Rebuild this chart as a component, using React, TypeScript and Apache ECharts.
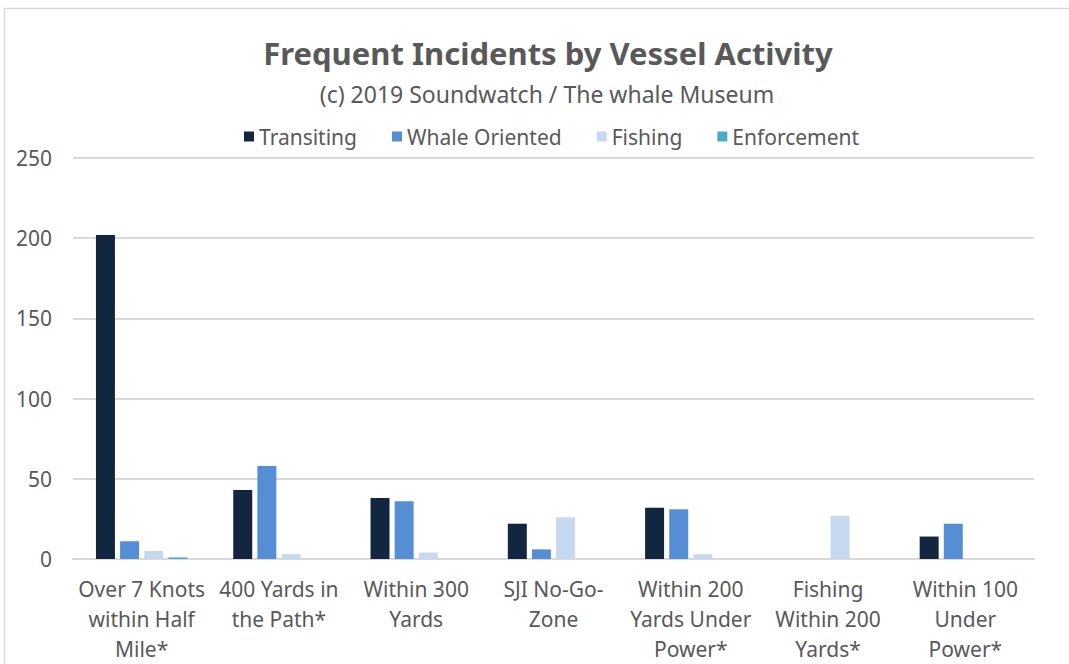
import React, { useEffect, useRef } from "react";
import * as echarts from "echarts";

const categories = [
  "Over 7 Knots\nwithin Half\nMile*",
  "400 Yards in\nthe Path*",
  "Within 300\nYards",
  "SJI No-Go-\nZone",
  "Within 200\nYards Under\nPower*",
  "Fishing\nWithin 200\nYards*",
  "Within 100\nUnder\nPower*",
];
const transiting = [202, 43, 38, 22, 32, 0, 14];
const whaleOriented = [11, 58, 36, 6, 31, 0, 22];
const fishing = [5, 3, 4, 26, 3, 27, 0];
const enforcement = [1, 0, 0, 0, 0, 0, 0];
const seriesNames = ["Transiting", "Whale Oriented", "Fishing", "Enforcement"];
const colors = ["#12263f", "#558ed5", "#c6d9f0", "#4bacc6"];

const FONT = "'Noto Sans', sans-serif";
const GREY = "#595959";

export default function App() {
  const ref = useRef<HTMLDivElement>(null);
  useEffect(() => {
    if (!ref.current) return;
    const chart = echarts.init(ref.current, undefined, { renderer: "svg" });
    const data = [transiting, whaleOriented, fishing, enforcement];
    chart.setOption({
      animation: false,
      backgroundColor: "#ffffff",
      title: [
        {
          text: "Frequent Incidents by Vessel Activity",
          left: 543,
          textAlign: "center",
          top: 32,
          textStyle: { fontFamily: FONT, fontSize: 31, fontWeight: "bold", color: GREY },
        },
        {
          text: "(c) 2019 Soundwatch / The whale Museum",
          left: 542,
          textAlign: "center",
          top: 77,
          textStyle: { fontFamily: FONT, fontSize: 23, fontWeight: "normal", color: GREY },
        },
      ],
      legend: {
        top: 121,
        left: 239,
        itemWidth: 10,
        itemHeight: 10,
        itemGap: 35,
        icon: "rect",
        textStyle: { fontFamily: FONT, fontSize: 21, color: GREY },
        data: seriesNames,
      },
      graphic: [
        {
          type: "rect",
          shape: { x: 4.5, y: 8.5, width: 1100, height: 700 },
          style: { fill: "none", stroke: "#d9d9d9", lineWidth: 1.5 },
          silent: true,
        },
      ],
      grid: { left: 73, right: 35, top: 158, bottom: 102, containLabel: false },
      xAxis: {
        type: "category",
        data: categories,
        axisLine: { show: true, lineStyle: { color: "#d9d9d9", width: 2 } },
        axisTick: { show: false },
        axisLabel: {
          fontFamily: FONT,
          fontSize: 21,
          color: GREY,
          lineHeight: 30,
          margin: 15,
          interval: 0,
        },
      },
      yAxis: {
        type: "value",
        min: 0,
        max: 250,
        interval: 50,
        axisLine: { show: false },
        axisTick: { show: false },
        splitLine: { lineStyle: { color: "#d9d9d9", width: 2 } },
        axisLabel: { fontFamily: FONT, fontSize: 21, color: GREY, margin: 21 },
      },
      series: seriesNames.map((name, i) => ({
        name,
        type: "bar",
        data: data[i],
        barWidth: 19,
        barGap: "27%",
        itemStyle: { color: colors[i] },
      })),
    });
    return () => chart.dispose();
  }, []);
  return (
    <div
      ref={ref}
      style={{ position: "absolute", left: 0, top: 0, width: 1069, height: 664 }}
    />
  );
}
